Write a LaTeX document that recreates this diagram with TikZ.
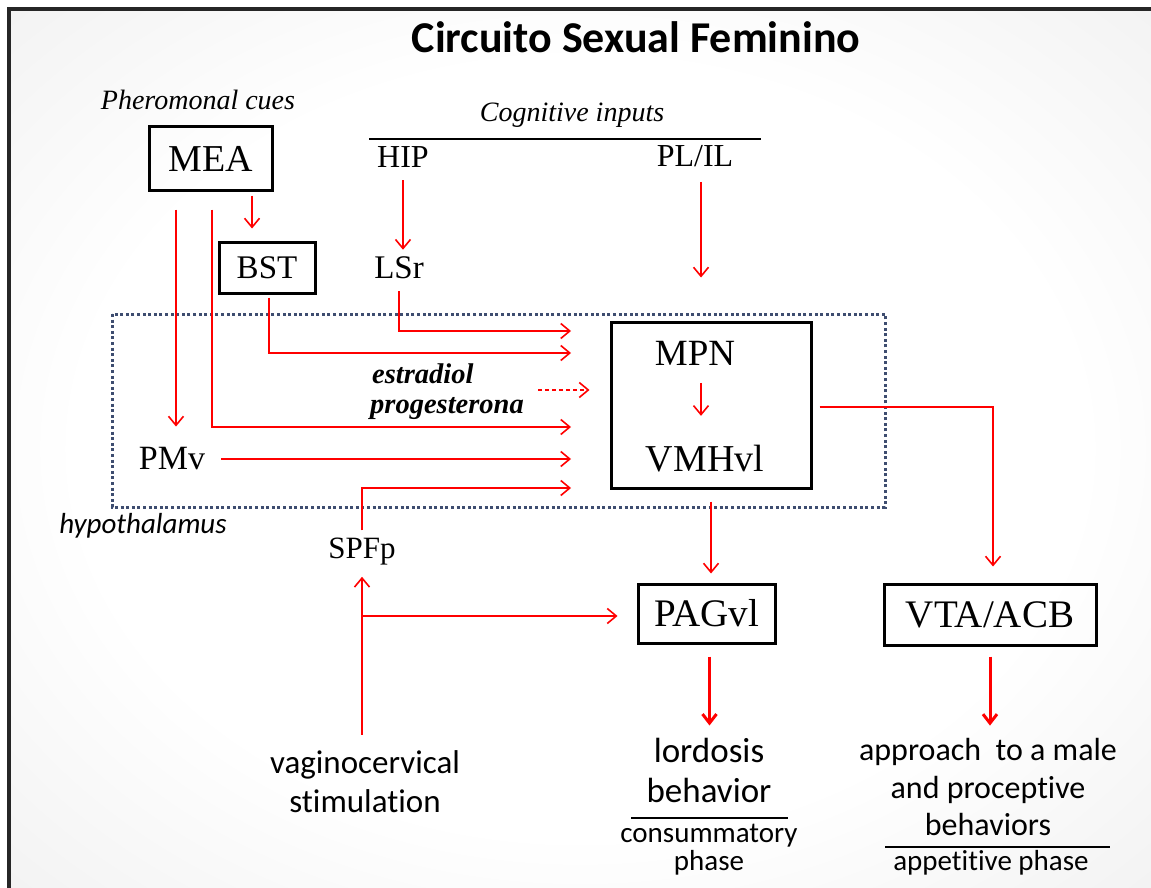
\documentclass[tikz,border=0pt]{standalone}
\usepackage{fontspec}
\setmainfont{Liberation Serif}
\newfontfamily\calibri[Ligatures={NoCommon}]{Carlito}
\usetikzlibrary{arrows.meta,calc}
\pgfdeclareradialshading{bgshade}{\pgfpoint{0bp}{0bp}}{color(0bp)=(white); color(22bp)=(white); color(50bp)=(black!10); color(72bp)=(black!22)}
\definecolor{dotblue}{RGB}{62,77,112}
\newcommand{\fs}[1]{\fontsize{#1}{#1}\selectfont}
\begin{document}
\begin{tikzpicture}[x=1pt,y=-1pt,
  lbl/.style={inner sep=0pt},
  boxed/.style={draw, line width=3pt, inner sep=0pt},
  arr/.style={red, line width=1.6pt, -{Straight Barb[length=9pt,width=15pt]}},
  tarr/.style={red, line width=3pt, -{Straight Barb[length=9pt,width=14pt]}},
  rule/.style={line width=1.5pt, black}
]
\useasboundingbox (0,0) rectangle (1151,888);
\fill[white] (0,0) rectangle (1151,888);
\shade[shading=bgshade] (9,9) rectangle (1151,888);
\draw[line width=4pt, black!85] (9,888) -- (9,9) -- (1151,9);

% titles
\node[lbl, font=\calibri\bfseries\fs{44}, anchor=base] (title) at (636,53) {Circuito Sexual Feminino};
\node[lbl, font=\itshape\fs{28}, anchor=base] (pher) at (198,110) {Pheromonal cues};
\node[lbl, font=\itshape\fs{28}, anchor=base] (cog) at (572,122) {Cognitive inputs};
\draw[rule] (369,139) -- (761,139);

% nodes
\node[boxed, minimum width=123pt, minimum height=63pt, font=\fs{38}] (MEA) at (210.5,158.5) {MEA};
\node[boxed, minimum width=96pt, minimum height=51pt, font=\fs{33}] (BST) at (267,267.5) {BST};
\node[lbl, font=\fs{32}] (HIP) at (403,157) {HIP};
\node[lbl, font=\fs{33}] (LSr) at (399,268) {LSr};
\node[lbl, font=\fs{32}] (PLIL) at (695,156) {PL/IL};
\node[boxed, minimum width=200pt, minimum height=166pt] (box) at (711,405) {};
\node[lbl, font=\fs{37}] (MPN) at (695,353.5) {MPN};
\node[lbl, font=\fs{38}] (VMH) at (705,458.5) {VMHvl};
\node[lbl, font=\fs{34}] (PMv) at (172,459) {PMv};
\node[lbl, font=\fs{31}, anchor=base] (SPFp) at (362,558) {SPFp};
\node[lbl, font=\calibri\itshape\fs{29}, anchor=base] (hyp) at (143,533) {hypothalamus};
\node[lbl, font=\bfseries\itshape\fs{28.5}, anchor=base west] (estr) at (372,383) {estradiol};
\node[lbl, font=\bfseries\itshape\fs{28.5}, anchor=base west] (prog) at (370,413) {progesterona};
\node[boxed, minimum width=137pt, minimum height=59pt, font=\fs{39}] (PAG) at (706.5,613.5) {PAGvl};
\node[boxed, minimum width=212pt, minimum height=61pt, font=\fs{39}] (VTA) at (990,614.5) {VTA/ACB};

% bottom texts
\node[lbl, font=\calibri\fs{33}, anchor=base] (vag1) at (365,773) {vaginocervical};
\node[lbl, font=\calibri\fs{33}, anchor=base] (vag2) at (365,812) {stimulation};
\node[lbl, font=\calibri\fs{35}, anchor=base] (lord1) at (709,762) {lordosis};
\node[lbl, font=\calibri\fs{35}, anchor=base] (lord2) at (709,802) {behavior};
\draw[rule] (631,818) -- (788,818);
\node[lbl, font=\calibri\fs{29}, anchor=base] (cons1) at (709,842) {consummatory};
\node[lbl, font=\calibri\fs{29}, anchor=base] (cons2) at (709,870) {phase};
\node[lbl, font=\calibri\fs{32}, anchor=base] (app1) at (988,760) {approach\ \ to a male};
\node[lbl, font=\calibri\fs{32}, anchor=base] (app2) at (988,798) {and proceptive};
\node[lbl, font=\calibri\fs{32}, anchor=base] (app3) at (988,835) {behaviors};
\draw[rule] (885,847) -- (1110,847);
\node[lbl, font=\calibri\fs{29}, anchor=base] (app4) at (991,870) {appetitive phase};

% hypothalamus frame
\draw[dotblue, line width=3pt, dash pattern=on 3pt off 2.6pt] (112,314) rectangle (885,507);

% free ends
\coordinate (tA) at (571,331);
\coordinate (tB) at (571,353);
\coordinate (tC) at (571,427);
\coordinate (tD) at (571,459);
\coordinate (tE) at (571,488);
\coordinate (hormS) at (538,390);
\coordinate (br) at (361,616);

% connectors
\draw[arr, shorten <=4pt, shorten >=12pt] ([xshift=41.5pt]MEA.south) -- ([xshift=41.5pt]MEA.south |- BST.north);
\draw[arr, shorten <=18pt, shorten >=21pt] ([xshift=-34.5pt]MEA.south) -- ([xshift=-34.5pt]MEA.south |- PMv.north);
\draw[arr, shorten <=18pt] ([xshift=1.5pt]MEA.south) |- (tC);
\draw[arr, shorten <=3pt] ([xshift=2pt]BST.south) |- (tB);
\draw[arr, shorten <=12.5pt, shorten >=7pt] (HIP.south) -- (HIP.south |- LSr.north);
\draw[arr, shorten <=12pt] (LSr.south) |- (tA);
\draw[arr, shorten <=15pt, shorten >=43pt] ([xshift=6pt]PLIL.south) -- ([xshift=6pt]PLIL.south |- box.north);
\draw[arr, shorten <=17pt, shorten >=29pt] ([xshift=6pt]MPN.south) -- ([xshift=6pt]MPN.south |- VMH.north);
\draw[arr, shorten <=16pt] (PMv.east) -- (tD);
\draw[arr, shorten <=7pt] (SPFp.north) |- (tE);
\draw[arr, dash pattern=on 4pt off 3pt, shorten >=20pt] (hormS) -- (hormS -| box.west);
\draw[arr, shorten <=15pt, shorten >=12pt] (SPFp.south |- vag1.north) -- (SPFp.south);
\draw[arr, shorten >=19pt] (br) -- (br -| PAG.west);
\draw[arr, shorten <=12pt, shorten >=9pt] (box.south) -- (box.south |- PAG.north);
\draw[arr, shorten <=7pt, shorten >=16pt] ([yshift=-2pt]box.east) -| ([xshift=3pt]VTA.north);
\draw[tarr, shorten <=12pt, shorten >=12pt] ([xshift=3pt]PAG.south) -- ([xshift=3pt]PAG.south |- lord1.north);
\draw[tarr, shorten <=10pt, shorten >=12pt] (VTA.south) -- (VTA.south |- app1.north);
\end{tikzpicture}
\end{document}
